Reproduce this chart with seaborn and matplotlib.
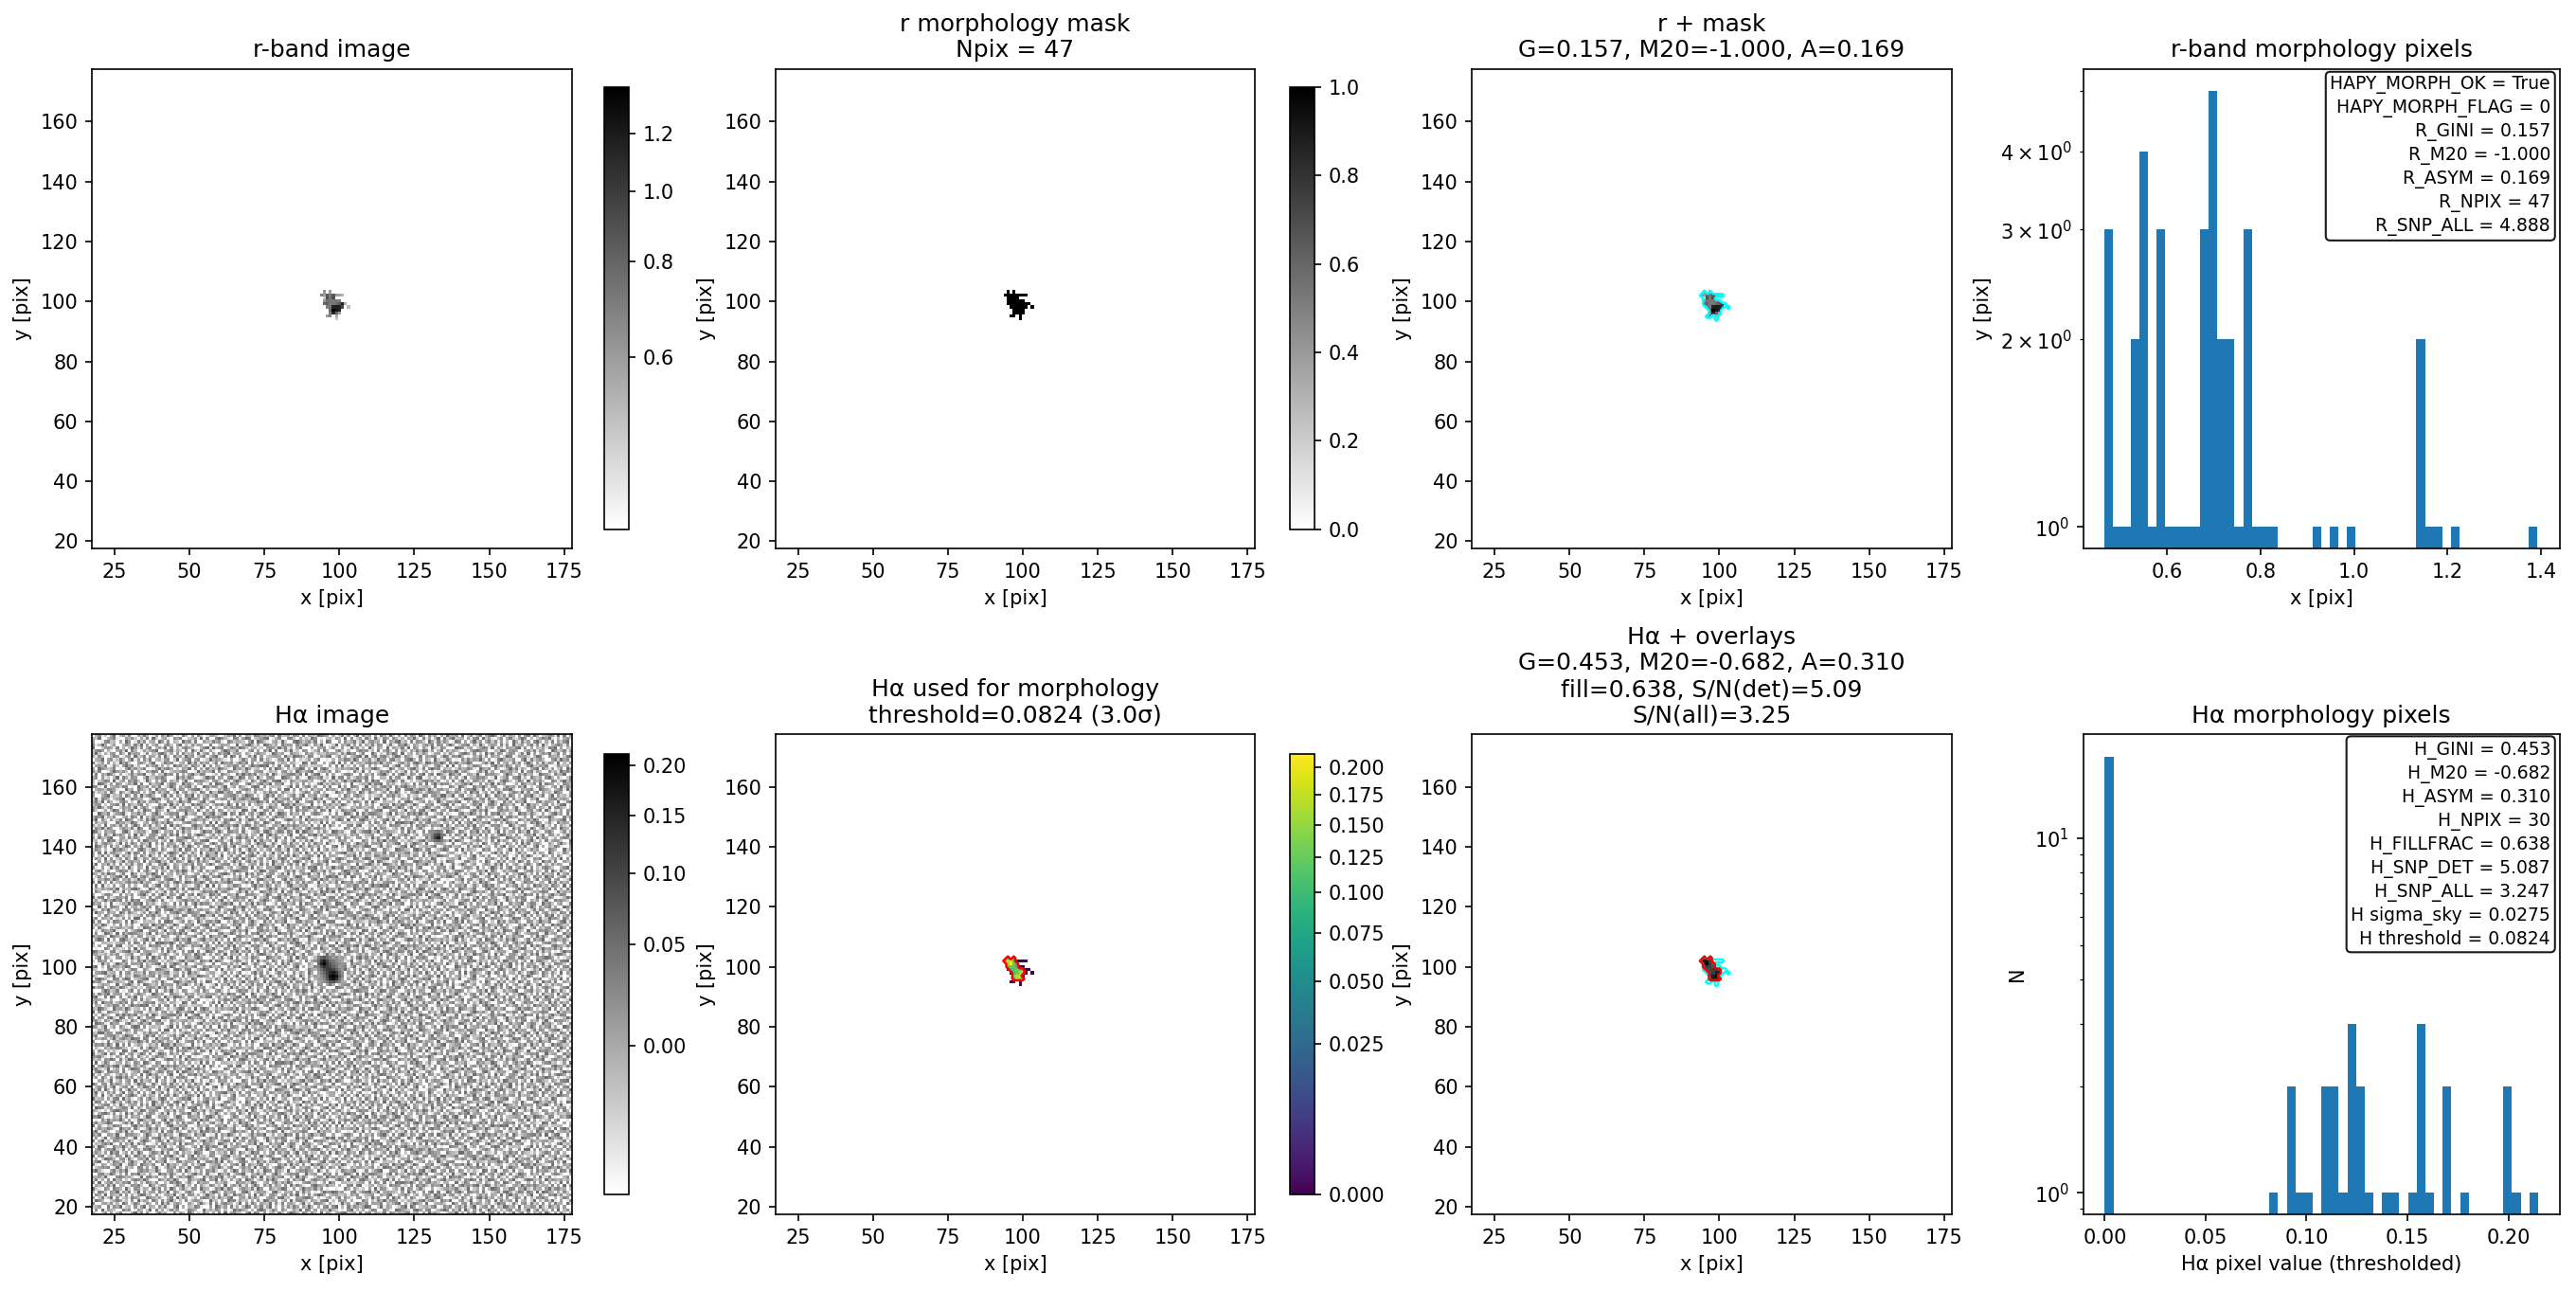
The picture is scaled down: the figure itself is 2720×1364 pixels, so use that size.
"""Morphology summary panels for one object: r-band and Halpha cutouts plus pixel histograms."""
import numpy as np
import matplotlib
matplotlib.use('Agg')
import matplotlib.pyplot as plt
from matplotlib.colors import PowerNorm
import seaborn as sns

n = np.nan

# r-band pixels inside the morphology mask, rows top to bottom (y = 103 ... 94), cols x = 94 ...
r_rows = [
    [n, 0.62, n, 0.60, n, n, n, n, n, n],
    [0.70, 0.60, 0.85, 0.72, 0.85, 0.60, 0.58, 0.55, n, n],
    [n, 0.50, 0.90, 0.72, 0.90, n, n, n, n, n],
    [n, 0.62, 0.75, 0.72, 0.72, 0.72, 0.70, n, n, n],
    [n, 0.80, 0.80, 0.72, 0.72, 0.78, 0.85, 1.15, 0.55, n],
    [n, n, 0.70, 0.72, 1.15, 1.20, 1.15, 0.95, n, 0.52],
    [n, n, n, 0.78, 1.39, 1.22, 1.15, n, n, n],
    [n, n, n, 0.70, 1.14, 0.80, 0.60, n, n, n],
    [n, n, 0.60, 0.68, n, 0.56, n, n, n, n],
    [n, n, n, n, n, 0.50, n, n, n, n],
]

# Halpha thresholded pixels on the same grid (0 = in r mask but below threshold)
ha_rows = [
    [n, 0.096, n, 0.110, n, n, n, n, n, n],
    [0.128, 0.172, 0.203, 0.115, 0, 0, 0, 0, n, n],
    [n, 0.157, 0.214, 0.124, 0.090, n, n, n, n, n],
    [n, 0.115, 0.125, 0.118, 0.100, 0, 0, n, n, n],
    [n, 0, 0.112, 0.110, 0.124, 0.130, 0.095, 0, 0, n],
    [n, n, 0, 0.108, 0.125, 0.158, 0.170, 0, n, 0],
    [n, n, n, 0.140, 0.170, 0.200, 0, n, n, n],
    [n, n, n, 0.085, 0.160, 0.145, 0.118, n, n, n],
    [n, n, 0, 0, n, 0, n, n, n, n],
    [n, n, n, n, n, 0, n, n, n, n],
]

# histogram bar heights (50 bins each)
r_counts = [3, 1, 1, 2, 4, 1, 3, 1, 1, 1, 1, 3, 5, 2, 2, 1, 3, 1, 1, 1,
            0, 0, 0, 0, 1, 0, 1, 0, 1, 0, 0, 0, 0, 0, 0, 0, 2, 1, 1, 0,
            1, 0, 0, 0, 0, 0, 0, 0, 0, 1]
ha_counts = [17, 0, 0, 0, 0, 0, 0, 0, 0, 0, 0, 0, 0, 0, 0, 0, 0, 0, 0, 1,
             0, 2, 1, 1, 0, 2, 2, 1, 3, 2, 1, 0, 1, 1, 0, 1, 3, 1, 0, 2,
             0, 1, 0, 0, 0, 0, 2, 1, 0, 1]
r_hist_range = (0.466, 1.393)
ha_hist_range = (0.0, 0.2147)

# Halpha sky: NOT a pixel-by-pixel reading. This is a hand-typed tile that only imitates
# the look of the noise in the crops, repeated over the cutout in four rotations.
ha_levels = [-0.035, -0.030, -0.025, -0.016, -0.008, 0.0, 0.008, 0.018, 0.030, 0.050]
ha_tile = [
    "5203716048120593716204835017264095132740",
    "0719264301857026403918250374610286401935",
    "3460182759034172690541738206915043872016",
    "8105637240961385027416093825740163059428",
    "2974013586240719364085172693041825763109",
    "6038249170352864019753620481937502416873",
    "1752906438071526983407215649038176250394",
    "4086317592648039172560843917520684013725",
    "9321750864193076254183706295148327609541",
    "0647283915402768310952476103859240716328",
    "7190468253769041528637014285960372184650",
    "3825071946130587496201853749612084357916",
    "5463920178645302917846025180374695201837",
    "1078349625081769340521967384205137946082",
    "6942105837492016857339410672581940326175",
    "0357681294063518726049213857064291785304",
    "8216403759127840965371082946315706248913",
    "4790152863605942183607459120783654091278",
    "2503987416728305649172368054901267835640",
    "9168034275094186372850417693248059163427",
    "3742609581360729510486392715806342975016",
    "0581476932815064287931054682197530468293",
    "6297310845942671038562749031586204719385",
    "1436859207063928471025186347092865130764",
    "8059241763518402697314850926473018625947",
    "2613904586740291358067924185360794152038",
    "7480165392086753149620738451297630845912",
    "5926730148392510864735091682640173529684",
    "0374586219647083125948263057918426037195",
    "9162043875120694738516402793365801274360",
    "4835697102583917046283715940628375190426",
    "1207384659406128953470169283574016839572",
    "7694120538271645039812656304982175460389",
    "3058962714093827514760382916047592381604",
    "6421305897560143982675104738265019734826",
    "0987246135872906316548927051436287905143",
    "5136780429314650827193460582719304586271",
    "2870514936058372614095283617940528163790",
    "9345162780936214705832697140358692041573",
    "4619037258147960382541706829513476290815",
]

# main source and the faint neighbour, rows top to bottom
ha_source_main = [
    [0.03, 0.06, 0.08, 0.05, 0.03, 0.01, 0.02, 0.00, 0.01],
    [0.05, 0.12, 0.16, 0.10, 0.05, 0.04, 0.02, 0.01, 0.00],
    [0.06, 0.15, 0.21, 0.12, 0.08, 0.05, 0.03, 0.02, 0.01],
    [0.03, 0.09, 0.13, 0.11, 0.09, 0.06, 0.04, 0.01, 0.02],
    [0.02, 0.05, 0.09, 0.11, 0.12, 0.10, 0.06, 0.03, 0.01],
    [0.01, 0.03, 0.06, 0.10, 0.14, 0.16, 0.12, 0.05, 0.02],
    [0.00, 0.02, 0.04, 0.09, 0.18, 0.21, 0.17, 0.07, 0.03],
    [0.01, 0.01, 0.03, 0.07, 0.15, 0.18, 0.13, 0.05, 0.01],
    [0.00, 0.01, 0.02, 0.04, 0.07, 0.08, 0.05, 0.03, 0.00],
]
ha_source_faint = [
    [0.02, 0.03, 0.04, 0.02],
    [0.03, 0.08, 0.10, 0.04],
    [0.04, 0.10, 0.16, 0.05],
    [0.02, 0.05, 0.06, 0.03],
]

r_info = ["HAPY_MORPH_OK = True", "HAPY_MORPH_FLAG = 0", "R_GINI = 0.157", "R_M20 = -1.000",
          "R_ASYM = 0.169", "R_NPIX = 47", "R_SNP_ALL = 4.888"]
ha_info = ["H_GINI = 0.453", "H_M20 = -0.682", "H_ASYM = 0.310", "H_NPIX = 30", "H_FILLFRAC = 0.638",
           "H_SNP_DET = 5.087", "H_SNP_ALL = 3.247", "H sigma_sky = 0.0275", "H threshold = 0.0824"]

X0, SIZE = 18, 160                # first pixel coordinate, cutout size
MASK_X, MASK_Y = 94, 103          # left / top pixel of the mask grids
EXTENT = (X0 - 0.5, X0 + SIZE - 0.5, X0 - 0.5, X0 + SIZE - 0.5)
BAR_COLOR = '#1f77b4'
W, H = 1568.0, 786.3              # layout below is measured on this scale


def place(rows, x_left, y_top, base=n):
    """Put a small top-to-bottom grid on a full cutout with origin lower."""
    img = np.full((SIZE, SIZE), base, dtype=float)
    return stamp(img, rows, x_left, y_top)


def stamp(img, rows, x_left, y_top):
    for i, row in enumerate(rows):
        for j, val in enumerate(row):
            if not np.isnan(val):
                img[y_top - i - X0, x_left + j - X0] = val
    return img


def add_box(fig, left, right, top, bottom):
    return fig.add_axes([left / W, 1 - bottom / H, (right - left) / W, (bottom - top) / H])


def show_image(ax, img, cmap, norm, xlabel='x [pix]', ylabel='y [pix]'):
    im = ax.imshow(img, origin='lower', cmap=cmap, norm=norm, extent=EXTENT, interpolation='nearest',
                   aspect='auto')
    ax.set_xlabel(xlabel)
    ax.set_ylabel(ylabel)
    ax.set_xticks(np.arange(25, 176, 25))
    ax.set_yticks(np.arange(20, 161, 20))
    return im


def overlay(ax, mask, color):
    coords = np.arange(X0, X0 + SIZE)
    ax.contour(coords, coords, mask, levels=[0.5], colors=color, linewidths=1.2)


def pixel_hist(ax, counts, hist_range, info):
    edges = np.linspace(hist_range[0], hist_range[1], len(counts) + 1)
    centers = 0.5 * (edges[:-1] + edges[1:])
    sns.histplot(x=centers, weights=counts, bins=len(counts), binrange=hist_range, color=BAR_COLOR,
                 alpha=1.0, edgecolor='none', linewidth=0, ax=ax)
    ax.set_yscale('log')
    ax.text(0.981, 0.985, "\n".join(info), transform=ax.transAxes, ha='right', va='top', fontsize=9,
            linespacing=1.33,
            bbox=dict(boxstyle='round,pad=0.25', facecolor='white', edgecolor='black', alpha=0.9))


# build the images
r_img = place(r_rows, MASK_X, MASK_Y)
ha_thresh = place(ha_rows, MASK_X, MASK_Y)
r_mask = (~np.isnan(r_img)).astype(float)
ha_mask = (np.nan_to_num(ha_thresh) > 0).astype(float)

tile = np.array([[ha_levels[int(c)] for c in row] for row in ha_tile])
rot = [np.rot90(tile, k) for k in range(4)]
ha_sky = np.block([[rot[0], rot[2], rot[1], rot[3]],
                   [rot[3], rot[1], rot[0], rot[2]],
                   [rot[1], rot[0], rot[3], rot[2]],
                   [rot[2], rot[3], rot[1], rot[0]]])
ha_sky = stamp(ha_sky, ha_source_main, 93, 103)
ha_sky = stamp(ha_sky, ha_source_faint, 131, 145)

r_norm = PowerNorm(0.5, vmin=0.46, vmax=1.385)
ha_norm_full = PowerNorm(0.5, vmin=-0.0275, vmax=0.2125)
ha_norm = PowerNorm(0.5, vmin=0.0, vmax=0.2125)

fig = plt.figure(figsize=(2720 / 150, 1364 / 150))
cols = [(56, 348), (472, 764), (896, 1188), (1268, 1558)]
rows = [(42, 334), (447, 739)]
axes = [[add_box(fig, c[0], c[1], r[0], r[1]) for c in cols] for r in rows]
cb_x = [(368, 383), (785, 800)]
cb_y = [(53, 322), (459, 727)]
cax = [[add_box(fig, x[0], x[1], y[0], y[1]) for x in cb_x] for y in cb_y]

# top row
ax = axes[0][0]
im = show_image(ax, r_img, 'gray_r', r_norm)
ax.set_title('r-band image')
fig.colorbar(im, cax=cax[0][0], ticks=[0.6, 0.8, 1.0, 1.2])

ax = axes[0][1]
im = show_image(ax, r_mask, 'gray_r', plt.Normalize(0, 1))
ax.set_title('r morphology mask\nNpix = 47')
fig.colorbar(im, cax=cax[0][1], ticks=np.arange(0, 1.01, 0.2))

ax = axes[0][2]
show_image(ax, r_img, 'gray_r', r_norm)
overlay(ax, r_mask, 'cyan')
ax.set_title('r + mask\nG=0.157, M20=-1.000, A=0.169')

ax = axes[0][3]
pixel_hist(ax, r_counts, r_hist_range, r_info)
ax.set_xlim(0.42, 1.44)
ax.set_ylim(0.923, 5.42)
ax.set_xlabel('x [pix]')
ax.set_ylabel('y [pix]')
ax.set_title('r-band morphology pixels')

# bottom row
ax = axes[1][0]
im = show_image(ax, ha_sky, 'gray_r', ha_norm_full)
ax.set_title('H\u03b1 image')
fig.colorbar(im, cax=cax[1][0], ticks=[0.0, 0.05, 0.10, 0.15, 0.20], format='%.2f')

ax = axes[1][1]
im = show_image(ax, ha_thresh, 'viridis', ha_norm)
overlay(ax, ha_mask, 'red')
ax.set_title('H\u03b1 used for morphology\nthreshold=0.0824 (3.0\u03c3)')
fig.colorbar(im, cax=cax[1][1], ticks=np.arange(0, 0.201, 0.025), format='%.3f')

ax = axes[1][2]
show_image(ax, np.nan_to_num(ha_thresh), 'gray_r', ha_norm)
overlay(ax, r_mask, 'cyan')
overlay(ax, ha_mask, 'red')
ax.set_title('H\u03b1 + overlays\nG=0.453, M20=-0.682, A=0.310\nfill=0.638, S/N(det)=5.09\nS/N(all)=3.25')

ax = axes[1][3]
pixel_hist(ax, ha_counts, ha_hist_range, ha_info)
ax.set_xlim(-0.0107, 0.2254)
ax.set_ylim(0.87, 19.6)
ax.set_xlabel('H\u03b1 pixel value (thresholded)')
ax.set_ylabel('N')
ax.set_title('H\u03b1 morphology pixels')

fig.savefig('out.png', dpi=150)
